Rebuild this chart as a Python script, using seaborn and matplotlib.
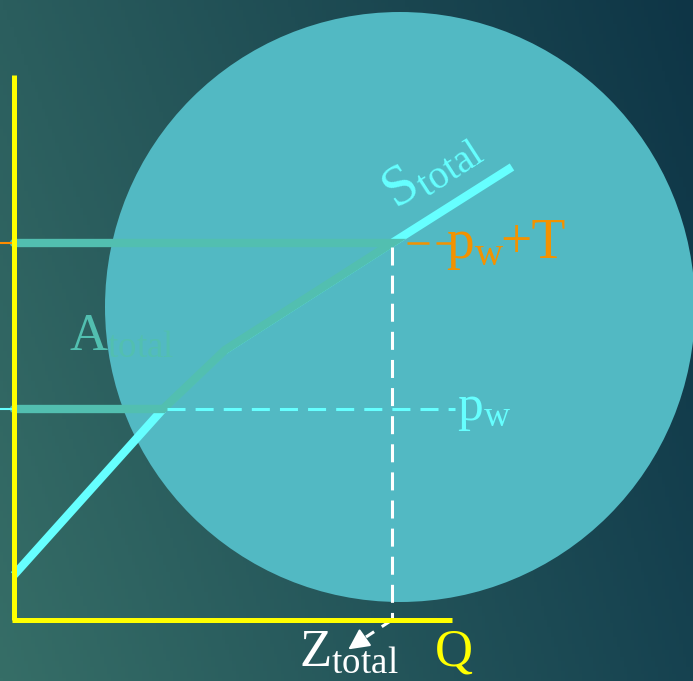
import numpy as np
import pandas as pd
import seaborn as sns
import matplotlib.pyplot as plt
from matplotlib.patches import Circle

sns.set_theme(style="white")
plt.rcParams['font.family'] = ['Liberation Serif', 'DejaVu Serif']
plt.rcParams['mathtext.fontset'] = 'custom'
plt.rcParams['mathtext.rm'] = 'Liberation Serif'
plt.rcParams['mathtext.it'] = 'Liberation Serif:italic'

# supply curve S_total (quantity, price) with its kinks
q_supply = [0, 149, 211, 378, 498]
p_supply = [45, 211, 270, 377, 453]
# world price, tariff, imports at p_w + T
p_w = 211
tariff = 166
z_total = 378
# axis extents
q_max = 438
p_max = 545
# highlighted circle (centre q, centre p, radius)
circle_q, circle_p, circle_r = 386, 313, 295

supply = pd.DataFrame({'Q': q_supply, 'P': p_supply})
p_top = p_w + tariff

fig = plt.figure(figsize=(6.93, 6.81), dpi=100)
ax = fig.add_axes([0, 0, 1, 1])
ax.set_xlim(-14, 679)
ax.set_ylim(-61, 620)
ax.axis('off')

# background gradient
gx, gy = np.meshgrid(np.linspace(0, 1, 200), np.linspace(0, 1, 200))
tl = np.array([43, 94, 94]) / 255
bl = np.array([54, 110, 103]) / 255
tr = np.array([14, 53, 70]) / 255
br = np.array([22, 66, 80]) / 255
grad = ((1 - gx)[..., None] * ((1 - gy)[..., None] * tl + gy[..., None] * bl)
        + gx[..., None] * ((1 - gy)[..., None] * tr + gy[..., None] * br))
ax.imshow(grad, extent=[-14, 679, -61, 620], origin='upper', aspect='auto', zorder=0)

ax.add_patch(Circle((circle_q, circle_p), circle_r, color='#52b9c3', zorder=1, lw=0))

# supply curve: thick at both ends, thin through the kinks
mid = supply.iloc[1:4].copy()
mid['P'] = mid['P'] - 4
sns.lineplot(data=mid, x='Q', y='P', sort=False, estimator=None,
             color='#66ffff', lw=1.0, ax=ax, zorder=3)
sns.lineplot(data=supply.iloc[0:2], x='Q', y='P', sort=False, estimator=None,
             color='#66ffff', lw=6, ax=ax, zorder=3, solid_capstyle='butt')
sns.lineplot(data=supply.iloc[3:5], x='Q', y='P', sort=False, estimator=None,
             color='#66ffff', lw=6, ax=ax, zorder=3, solid_capstyle='butt')

# A_total band
a_q = [0, q_supply[1], q_supply[2], q_supply[3], 0]
a_p = [p_w, p_supply[1], p_supply[2], p_top, p_top]
ax.plot(a_q, a_p, color='#52bfb0', lw=6, zorder=4, solid_joinstyle='miter')

# world price dashed line
ax.plot([q_supply[1] + 4, 441], [p_w, p_w], color='#66ffff', lw=2.2,
        dashes=(5.9, 3.3), zorder=4)
ax.plot([-14, 0], [p_w, p_w], color='#66ffff', lw=1.5, zorder=4)
# p_w + T markers
ax.plot([-14, 0], [p_top, p_top], color='#ff8c00', lw=1.5, zorder=4)
ax.plot([393, 438], [p_top, p_top], color='#f39200', lw=1.8, dashes=(8.8, 2.8), zorder=4)

# Z_total dashed drop line and pointer
ax.plot([z_total, z_total], [p_top - 4, 0], color='white', lw=2.2, dashes=(5.9, 3.3), zorder=4)
ax.plot([z_total, 352], [0, -17], color='white', lw=2.2, dashes=(4.0, 3.0), zorder=4)
ax.annotate('', xy=(332, -31), xytext=(349, -19),
            arrowprops=dict(arrowstyle='-|>', color='white', lw=1.5, mutation_scale=32),
            zorder=5)

# axes
ax.plot([0, 0], [0, p_max], color='#ffff00', lw=3.6, zorder=6, solid_capstyle='butt')
ax.plot([-2, q_max], [0, 0], color='#ffff00', lw=3.6, zorder=6, solid_capstyle='butt')

# labels
ax.text(418, 450, r'$\mathrm{S}_{\mathrm{total}}$', color='#66ffff', fontsize=41,
        rotation=33, ha='center', va='center', rotation_mode='anchor', zorder=7)
ax.text(432, 362, r'$\mathrm{p}_{\mathrm{w}}$', color='#f39200', fontsize=40,
        ha='left', va='baseline', zorder=7)
ax.text(486, 362, '+T', color='#f39200', fontsize=40,
        ha='left', va='baseline', zorder=7)
ax.text(443, 200, r'$\mathrm{p}_{\mathrm{w}}$', color='#66ffff', fontsize=37,
        ha='left', va='baseline', zorder=7)
ax.text(55, 270, r'$\mathrm{A}_{\mathrm{total}}$', color='#52bfb0', fontsize=38,
        ha='left', va='baseline', zorder=7)
ax.text(285, -46, r'$\mathrm{Z}_{\mathrm{total}}$', color='white', fontsize=38,
        ha='left', va='baseline', zorder=7)
ax.text(421, -46, 'Q', color='#ffff00', fontsize=38, ha='left', va='baseline', zorder=7)

fig.savefig('out.png', dpi=100)
